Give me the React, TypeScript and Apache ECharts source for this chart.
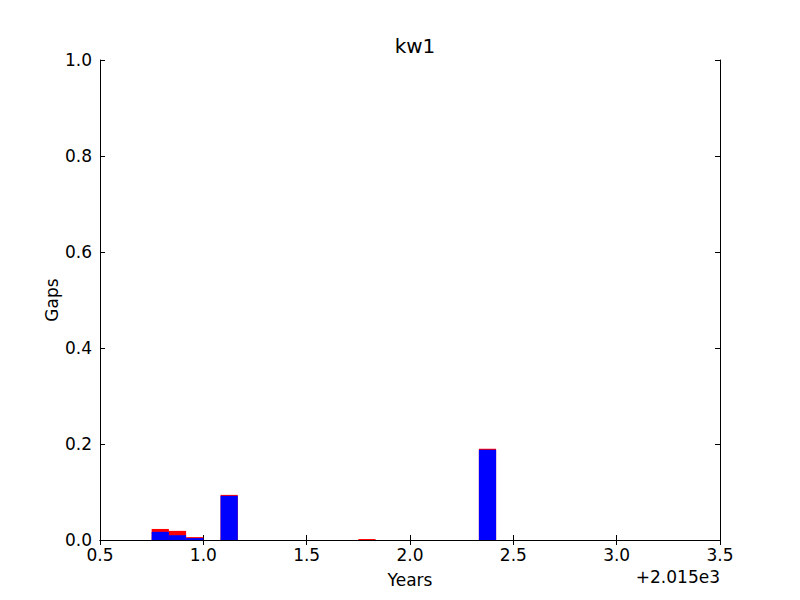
import React, { useEffect, useRef } from "react";
import * as echarts from "echarts";

// month index counted from Jan 2015 (x = months / 12, offset +2015)
const monthIndex = [9, 10, 11, 13, 21, 28];
const redValues = [0.023, 0.019, 0.006, 0.094, 0.002, 0.19];
const blueValues = [0.017, 0.010, 0.004, 0.092, 0, 0.188];
const xTicks = [0.5, 1.0, 1.5, 2.0, 2.5, 3.0, 3.5];
const yTicks = [0.0, 0.2, 0.4, 0.6, 0.8, 1.0];

const FONT = "DejaVu Sans";

export default function App() {
  const ref = useRef<HTMLDivElement>(null);
  useEffect(() => {
    if (!ref.current) return;
    const chart = echarts.init(ref.current, undefined, { renderer: "svg" });
    const barData = (vals: number[]) => monthIndex.map((m, i) => [m / 12, vals[i]]);
    const renderBar = (color: string) => (params: any, api: any) => {
      const x0 = api.value(0);
      const v = api.value(1);
      if (!v) return null;
      const p0 = api.coord([x0, v]);
      const p1 = api.coord([x0 + 1 / 12, 0]);
      return {
        type: "rect",
        shape: { x: p0[0], y: p0[1], width: p1[0] - p0[0], height: p1[1] - p0[1] },
        style: { fill: color },
      };
    };
    const tickStyle = { show: true, inside: true, length: 5, lineStyle: { color: "#000", width: 1 } };
    const axisLine = { show: true, lineStyle: { color: "#000", width: 1 } };
    chart.setOption({
      animation: false,
      backgroundColor: "#fff",
      title: {
        text: "kw1",
        left: 410,
        textAlign: "center",
        top: 31,
        textStyle: { fontFamily: FONT, fontSize: 20, fontWeight: "normal", color: "#000" },
      },
      grid: { left: 100, right: 80, top: 60, bottom: 60, containLabel: false },
      xAxis: [
        {
          type: "value",
          min: xTicks[0],
          max: xTicks[xTicks.length - 1],
          interval: 0.5,
          position: "bottom",
          axisLine,
          axisTick: tickStyle,
          splitLine: { show: false },
          axisLabel: {
            fontFamily: FONT,
            fontSize: 17,
            color: "#000",
            margin: 6,
            formatter: (v: number) => v.toFixed(1),
          },
          name: "Years",
          nameLocation: "middle",
          nameGap: 31,
          nameTextStyle: { fontFamily: FONT, fontSize: 17, color: "#000" },
        },
        {
          type: "value",
          min: xTicks[0],
          max: xTicks[xTicks.length - 1],
          interval: 0.5,
          position: "top",
          axisLine,
          axisTick: tickStyle,
          splitLine: { show: false },
          axisLabel: { show: false },
        },
      ],
      yAxis: [
        {
          type: "value",
          min: yTicks[0],
          max: yTicks[yTicks.length - 1],
          interval: 0.2,
          position: "left",
          axisLine,
          axisTick: tickStyle,
          splitLine: { show: false },
          axisLabel: {
            fontFamily: FONT,
            fontSize: 17,
            color: "#000",
            margin: 8,
            formatter: (v: number) => v.toFixed(1),
          },
        },
        {
          type: "value",
          min: yTicks[0],
          max: yTicks[yTicks.length - 1],
          interval: 0.2,
          position: "right",
          axisLine,
          axisTick: tickStyle,
          splitLine: { show: false },
          axisLabel: { show: false },
        },
      ],
      graphic: [
        {
          type: "text",
          right: 80,
          top: 568,
          style: { text: "+2.015e3", fontFamily: FONT, fontSize: 17, fill: "#000" },
        },
        {
          type: "text",
          x: 52,
          y: 300,
          rotation: Math.PI / 2,
          style: {
            text: "Gaps",
            fontFamily: FONT,
            fontSize: 17,
            fill: "#000",
            align: "center",
            verticalAlign: "middle",
          },
        },
      ],
      series: [
        {
          type: "custom",
          name: "red",
          xAxisIndex: 0,
          yAxisIndex: 0,
          renderItem: renderBar("#ff0000"),
          encode: { x: 0, y: 1 },
          data: barData(redValues),
          z: 1,
        },
        {
          type: "custom",
          name: "blue",
          xAxisIndex: 0,
          yAxisIndex: 0,
          renderItem: renderBar("#0000ff"),
          encode: { x: 0, y: 1 },
          data: barData(blueValues),
          z: 2,
        },
      ],
    });
    return () => chart.dispose();
  }, []);
  return <div ref={ref} style={{ width: 800, height: 600, position: "absolute", left: 0, top: 0 }} />;
}
